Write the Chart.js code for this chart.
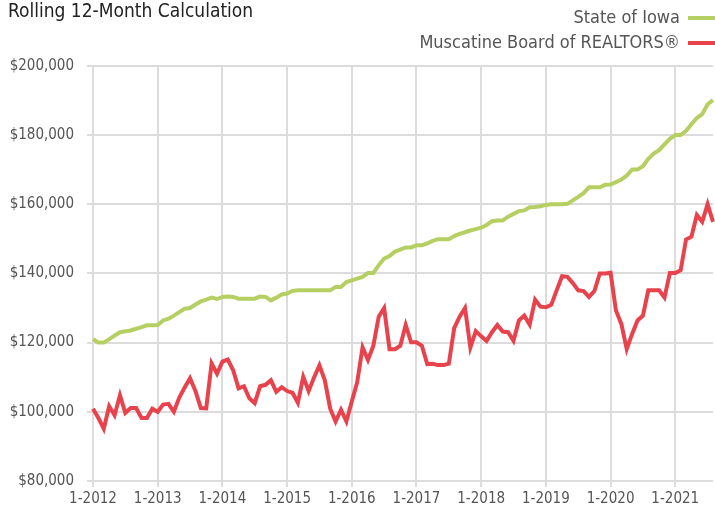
<!DOCTYPE html>
<html>
<head>
<meta charset="utf-8">
<script src="https://cdn.jsdelivr.net/npm/chart.js@4.4.1/dist/chart.umd.min.js"></script>
<style>
  html, body { margin: 0; padding: 0; background: #fff; }
  #wrap { position: relative; width: 715px; height: 515px; }
</style>
</head>
<body>
<div id="wrap">
  <canvas id="rollingChart" width="715" height="515"></canvas>
</div>
<script>
// months run 1-2012 .. 8-2021
var years = [2012, 2013, 2014, 2015, 2016, 2017, 2018, 2019, 2020, 2021];
var lastMonth = 8;

var iowa = [
  121000, 120000, 120000, 121000, 122000, 123000, 123300, 123500, 124000, 124500, 125000, 125000,
  125100, 126400, 126900, 127800, 128800, 129800, 130000, 131000, 131900, 132400, 133000, 132600,
  133200, 133300, 133200, 132700, 132700, 132700, 132700, 133300, 133200, 132200, 133000, 133900,
  134200, 134900, 135100, 135100, 135100, 135100, 135100, 135100, 135100, 136100, 136100, 137500,
  138000, 138500, 139000, 140100, 140100, 142400, 144300, 145000, 146300, 146900, 147500, 147500,
  148100, 148100, 148700, 149400, 149900, 149900, 149900, 150800, 151400, 151900, 152400, 152800,
  153200, 154000, 155100, 155300, 155300, 156400, 157200, 158000, 158200, 159100, 159200, 159400,
  159800, 160000, 160000, 160000, 160100, 161100, 162100, 163200, 164900, 164900, 164900, 165600,
  165700, 166400, 167100, 168300, 170000, 170000, 171000, 173100, 174600, 175600, 177300, 178900,
  180000, 180000, 181200, 183100, 184900, 186000, 188900, 190100
];

var muscatine = [
  100900, 98200, 95100, 101600, 99000, 104800, 99700, 101100, 101100, 98200, 98200, 100900,
  100000, 102100, 102300, 100000, 104100, 107000, 109700, 106000, 101100, 101000, 114000, 111000,
  114500, 115100, 112000, 106800, 107400, 103900, 102500, 107400, 107800, 109100, 105800, 107100,
  106000, 105500, 102600, 110100, 106000, 109900, 113400, 109100, 100900, 97200, 100600, 97200,
  103000, 108500, 118600, 115000, 119100, 127500, 130000, 118100, 118100, 119100, 125100, 120100,
  120100, 119100, 113800, 113900, 113500, 113500, 113900, 124200, 127500, 130000, 118600, 123300,
  121800, 120500, 123000, 125100, 123200, 123000, 120500, 126400, 127800, 125200, 132400, 130400,
  130200, 130900, 135100, 139200, 139000, 137200, 135100, 134900, 133200, 134900, 140000, 140000,
  140200, 129300, 125400, 118100, 122500, 126400, 127800, 135100, 135100, 135100, 133000, 140100,
  140100, 140900, 149800, 150600, 156900, 154900, 160000, 154900
];

var yMin = 80000, yMax = 200000, yStep = 20000;

var labels = [];
years.forEach(function(y, idx) {
    var n = (idx === years.length - 1) ? lastMonth : 12;
    for (var m = 1; m <= n; m++) {
        labels.push(m + '-' + y);
    }
});

var narrow = "'DejaVu Sans Condensed', 'Liberation Sans', sans-serif";

// legend drawn as text + short line to the right, two rows right aligned
var lineLegend = {
    id: 'lineLegend',
    afterDraw: function(chart, args, opts) {
        var ctx = chart.ctx;
        ctx.save();
        ctx.font = opts.fontSize + 'px ' + narrow;
        ctx.textAlign = 'right';
        ctx.textBaseline = 'middle';
        chart.data.datasets.forEach(function(ds, i) {
            var y = opts.top + i * opts.rowHeight;
            ctx.fillStyle = opts.color;
            ctx.fillText(ds.label, opts.right - opts.boxWidth - opts.gap, y);
            ctx.strokeStyle = ds.borderColor;
            ctx.lineWidth = ds.borderWidth;
            ctx.beginPath();
            ctx.moveTo(opts.right - opts.boxWidth, y);
            ctx.lineTo(opts.right, y);
            ctx.stroke();
        });
        ctx.restore();
    }
};

var ctx = document.getElementById('rollingChart').getContext('2d');
new Chart(ctx, {
    type: 'line',
    data: {
        labels: labels,
        datasets: [
            {
                label: 'State of Iowa',
                data: iowa,
                borderColor: '#b6cf63',
                borderWidth: 4,
                pointRadius: 0,
                tension: 0
            },
            {
                label: 'Muscatine Board of REALTORS®',
                data: muscatine,
                borderColor: '#e8424c',
                borderWidth: 4,
                pointRadius: 0,
                tension: 0
            }
        ]
    },
    options: {
        responsive: false,
        animation: false,
        layout: {
            padding: { left: 8, right: 2, top: 0, bottom: 0 }
        },
        plugins: {
            legend: { display: false },
            tooltip: { enabled: false },
            title: {
                display: true,
                text: 'Rolling 12-Month Calculation',
                align: 'start',
                color: '#222',
                font: { family: narrow, size: 19, weight: 'normal', lineHeight: 1.2 },
                padding: { top: 1, bottom: 42 }
            },
            lineLegend: {
                fontSize: 18,
                color: '#555',
                right: 715,
                top: 18,
                rowHeight: 25,
                boxWidth: 27,
                gap: 8
            }
        },
        scales: {
            x: {
                grid: {
                    color: '#dcdcdc',
                    lineWidth: 2,
                    tickLength: 6
                },
                border: { display: false },
                ticks: {
                    autoSkip: false,
                    maxRotation: 0,
                    padding: 3,
                    color: '#555',
                    font: { family: narrow, size: 15 },
                    callback: function(value, index) {
                        var lbl = labels[index];
                        return lbl.indexOf('1-') === 0 && lbl.length === 6 ? lbl : null;
                    }
                },
                afterFit: function(scale) { scale.height = 34; }
            },
            y: {
                min: yMin,
                max: yMax,
                grid: {
                    color: '#dcdcdc',
                    lineWidth: 2,
                    tickLength: 6
                },
                border: { display: false },
                ticks: {
                    stepSize: yStep,
                    padding: 13,
                    color: '#555',
                    font: { family: narrow, size: 15 },
                    callback: function(v) {
                        return '$' + v.toLocaleString('en-US');
                    }
                },
                afterFit: function(scale) { scale.width = 85; }
            }
        }
    },
    plugins: [lineLegend]
});
</script>
</body>
</html>
